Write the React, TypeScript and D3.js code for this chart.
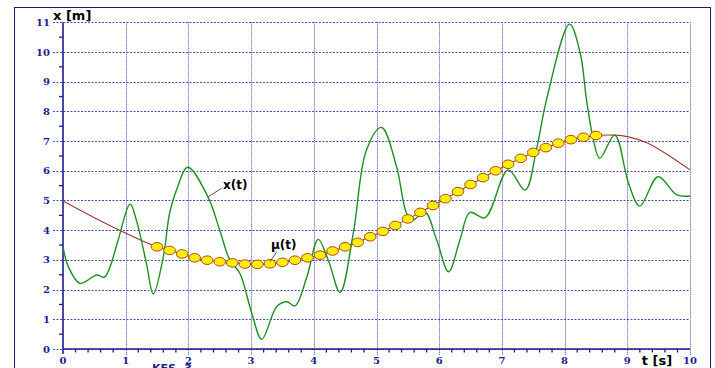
import React from "react";
import * as d3 from "d3";

// x(t) trace as [t, x]
const xTrace: [number, number][] = [
  [0, 3.45], [0.08, 2.8], [0.27, 2.21], [0.54, 2.49], [0.66, 2.42], [0.75, 2.77],
  [0.88, 3.67], [1.07, 4.88], [1.17, 4.34], [1.33, 2.89], [1.44, 1.85], [1.6, 3.1],
  [1.7, 4.57], [1.81, 5.35], [1.99, 6.12], [2.31, 5.13], [2.5, 4.0], [2.66, 3.0],
  [2.82, 2.55], [3.01, 1.21], [3.17, 0.33], [3.41, 1.43], [3.57, 1.59], [3.7, 1.45],
  [3.89, 2.43], [4.07, 3.69], [4.23, 3.0], [4.42, 1.9], [4.63, 3.9], [4.84, 6.7],
  [5.08, 7.46], [5.32, 6.14], [5.48, 4.57], [5.58, 4.34], [5.77, 4.62], [5.96, 3.67],
  [6.15, 2.6], [6.33, 3.67], [6.49, 4.6], [6.73, 4.42], [7.1, 6.03], [7.37, 5.35],
  [7.55, 6.7], [7.71, 8.38], [8.08, 10.94], [8.25, 9.95], [8.35, 8.38], [8.46, 7.04],
  [8.56, 6.42], [8.8, 7.2], [9.02, 5.58], [9.2, 4.81], [9.49, 5.8], [9.79, 5.19],
  [10, 5.15],
];

// mu(t) line outside the dotted part
const muHead: [number, number][] = [[0, 4.98], [0.5, 4.42], [1, 3.9]];
const muTail: [number, number][] = [[8.8, 7.2], [9.0, 7.15], [9.3, 6.95], [9.6, 6.6], [10, 6.03]];

// dots on mu(t)
const dotT = [
  1.5, 1.7, 1.9, 2.1, 2.3, 2.5, 2.7, 2.9, 3.1, 3.3, 3.5, 3.7, 3.9, 4.1, 4.3, 4.5, 4.7, 4.9,
  5.1, 5.3, 5.5, 5.7, 5.9, 6.1, 6.3, 6.5, 6.7, 6.9, 7.1, 7.3, 7.5, 7.7, 7.9, 8.1, 8.3, 8.5,
];
const dotMu = [
  3.44, 3.32, 3.2, 3.07, 2.99, 2.94, 2.9, 2.86, 2.85, 2.87, 2.92, 2.99, 3.07, 3.16, 3.3, 3.44, 3.59, 3.78,
  3.96, 4.16, 4.38, 4.6, 4.83, 5.06, 5.3, 5.54, 5.77, 6.0, 6.22, 6.42, 6.62, 6.78, 6.93, 7.05, 7.13, 7.19,
];

const tTicks = d3.range(0, 11);
const xTicks = d3.range(0, 12);

const W = 715;
const H = 368;
const navy = "#1c1c8c";
const grid = "#4a4ab4";
const labelFont = "'DejaVu Serif', 'Liberation Serif', serif";

export default function App() {
  const x = d3.scaleLinear().domain([0, 10]).range([63, 690]);
  const y = d3.scaleLinear().domain([0, 11]).range([349, 22.3]);

  const dots: [number, number][] = dotT.map((t, i) => [t, dotMu[i]]);
  const muAll = [...muHead, ...dots, ...muTail];

  const line = d3
    .line<[number, number]>()
    .x((d) => x(d[0]))
    .y((d) => y(d[1]))
    .curve(d3.curveCatmullRom.alpha(0.5));

  const minorT = d3.range(0, 10.001, 0.2).filter((v) => Math.abs(v - Math.round(v)) > 0.01);
  const minorX = d3.range(0.5, 11, 1);

  return (
    <svg
      width={W}
      height={H}
      style={{ position: "absolute", left: 0, top: 0, background: "#fff" }}
      fontFamily="'DejaVu Sans', Verdana, sans-serif"
    >
      {/* outer frame */}
      <rect x={14.5} y={7.5} width={696} height={380} fill="none" stroke="#1a1a6a" strokeWidth={1} />

      {/* horizontal grid + major ticks */}
      {xTicks.map((v) => (
        <line
          key={"h" + v}
          x1={53}
          x2={x(10)}
          y1={Math.round(y(v)) + 0.5}
          y2={Math.round(y(v)) + 0.5}
          stroke={grid}
          strokeWidth={1}
          strokeDasharray="2,1.5"
        />
      ))}
      {/* vertical grid */}
      {tTicks.slice(1).map((v) => (
        <line
          key={"v" + v}
          x1={Math.round(x(v)) + 0.5}
          x2={Math.round(x(v)) + 0.5}
          y1={y(11)}
          y2={y(0) + 6}
          stroke={grid}
          strokeWidth={1}
          strokeDasharray="1,1"
        />
      ))}

      {/* axes */}
      <line x1={x(0)} x2={x(0)} y1={y(11)} y2={y(0)} stroke={navy} strokeWidth={1.6} />
      <line x1={x(0)} x2={x(10)} y1={y(0)} y2={y(0)} stroke={navy} strokeWidth={1.6} />
      {minorX.map((v) => (
        <line key={"mx" + v} x1={x(0) - 4} x2={x(0)} y1={y(v)} y2={y(v)} stroke={navy} strokeWidth={1.3} />
      ))}
      {minorT.map((v) => (
        <line key={"mt" + v} x1={x(v)} x2={x(v)} y1={y(0)} y2={y(0) + 3.5} stroke={navy} strokeWidth={1.3} />
      ))}
      <line x1={x(0)} x2={x(0)} y1={y(0)} y2={y(0) + 5} stroke={navy} strokeWidth={1.6} />

      {/* tick labels */}
      {xTicks.map((v) => (
        <text
          key={"yl" + v}
          x={50}
          y={y(v)}
          dy="0.35em"
          textAnchor="end"
          fontSize={10}
          fontWeight="bold"
          fontFamily={labelFont}
          fill={navy}
        >
          {v}
        </text>
      ))}
      {tTicks.map((v) => (
        <text
          key={"xl" + v}
          x={x(v)}
          y={y(0) + 11}
          dy="0.35em"
          textAnchor="middle"
          fontSize={10}
          fontWeight="bold"
          fontFamily={labelFont}
          fill={navy}
        >
          {v}
        </text>
      ))}

      {/* axis titles */}
      <text x={53} y={20} fontSize={13} fontWeight="bold" fill="#000">
        x [m]
      </text>
      <text x={657} y={360} dy="0.35em" textAnchor="middle" fontSize={13} fontWeight="bold" fill="#000">
        t [s]
      </text>
      <text x={152} y={372} fontSize={11} fontWeight="bold" fill={navy}>
        KES -3
      </text>

      {/* mu(t) line */}
      <path d={line(muAll) ?? ""} fill="none" stroke="#a03838" strokeWidth={1.1} />

      {/* x(t) trace */}
      <path d={line(xTrace) ?? ""} fill="none" stroke="#1f8f1f" strokeWidth={1.4} />

      {/* dots */}
      {dots.map((d, i) => (
        <ellipse
          key={"d" + i}
          cx={x(d[0])}
          cy={y(d[1])}
          rx={5.8}
          ry={4.3}
          fill="#ffee00"
          stroke="#b04818"
          strokeWidth={1}
        />
      ))}

      {/* annotations */}
      <line x1={221.7} y1={188.3} x2={208.3} y2={196.7} stroke="#555" strokeWidth={1} />
      <text x={223} y={185} dy="0.35em" fontSize={12} fontWeight="bold" fill="#000">
        x(t)
      </text>
      <line x1={276.7} y1={251.7} x2={270} y2={261.7} stroke="#555" strokeWidth={1} />
      <text x={271} y={245} dy="0.35em" fontSize={12} fontWeight="bold" fill="#000">
        μ(t)
      </text>
    </svg>
  );
}
